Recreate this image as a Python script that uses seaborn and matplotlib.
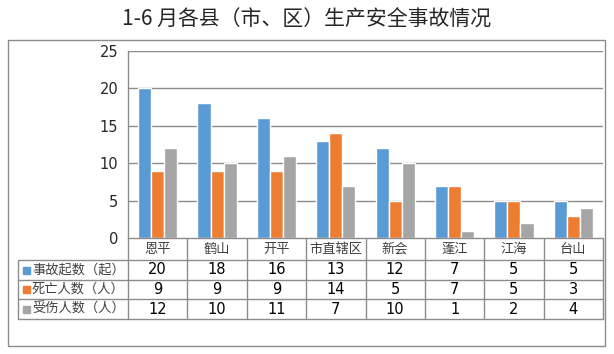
import matplotlib
matplotlib.use("Agg")
import matplotlib.pyplot as plt
import seaborn as sns
import pandas as pd
from matplotlib.transforms import blended_transform_factory
from matplotlib.patches import Rectangle

categories = ["恩平", "鹤山", "开平", "市直辖区", "新会", "蓬江", "江海", "台山"]
series_names = ["事故起数（起）", "死亡人数（人）", "受伤人数（人）"]
accidents = [20, 18, 16, 13, 12, 7, 5, 5]
deaths = [9, 9, 9, 14, 5, 7, 5, 3]
injuries = [12, 10, 11, 7, 10, 1, 2, 4]
yticks = [0, 5, 10, 15, 20, 25]
colors = ["#5B9BD5", "#ED7D31", "#A5A5A5"]
title = "1-6 月各县（市、区）生产安全事故情况"

sns.set_theme(style="white")
plt.rcParams['font.family'] = ['Noto Sans CJK SC', 'DejaVu Sans']

df = pd.DataFrame({
    "cat": categories * 3,
    "series": sum([[s] * len(categories) for s in series_names], []),
    "value": accidents + deaths + injuries,
})

W, H = 614, 354
fig = plt.figure(figsize=(W / 100, H / 100), dpi=100)

def fx(px):
    return px / W

def fy(py):
    return 1 - py / H

grid_c = "#8C8C8C"
x0, x1, ytop, ybot = 128, 603, 51, 238
ax = fig.add_axes([fx(x0), fy(ybot), fx(x1) - fx(x0), fy(ytop) - fy(ybot)])
sns.barplot(data=df, x="cat", y="value", hue="series", palette=colors,
            width=0.66, saturation=1, ax=ax, legend=False)
ax.set_xlim(-0.5, len(categories) - 0.5)
ax.set_ylim(0, 25)
ax.set_yticks(yticks)
ax.set_yticklabels([str(v) for v in yticks], fontsize=10.5, family=['DejaVu Sans'])
ax.tick_params(axis='y', length=0, pad=7)
ax.set_xticks([])
ax.set_xlabel("")
ax.set_ylabel("")
for v in yticks[1:]:
    ax.axhline(v, color=grid_c, lw=1, zorder=0)
for s in ["top", "right", "bottom"]:
    ax.spines[s].set_visible(False)
ax.spines["left"].set_color(grid_c)
ax.spines["left"].set_linewidth(1)

# outer frame
fig.patches.append(Rectangle((fx(8), fy(346)), fx(605) - fx(8), fy(40) - fy(346),
                             transform=fig.transFigure, fill=False,
                             edgecolor=grid_c, lw=1))

fig.text(fx(307), fy(20), title, ha="center", va="center", fontsize=15,
         family=['Noto Sans CJK SC', 'DejaVu Sans'])

# data table
tr = blended_transform_factory(ax.transData, fig.transFigure)
line_kw = dict(color=grid_c, lw=1, clip_on=False)
row_y = [238, 260, 280, 299, 319]
xl = -0.5 - (x0 - 18) / ((x1 - x0) / len(categories))
ax.plot([-0.5, len(categories) - 0.5], [fy(238)] * 2, transform=tr, **line_kw)
for ry in row_y[1:]:
    ax.plot([xl, len(categories) - 0.5], [fy(ry)] * 2, transform=tr, **line_kw)
for i in range(len(categories) + 1):
    ax.plot([i - 0.5] * 2, [fy(238), fy(319)], transform=tr, **line_kw)
ax.plot([xl] * 2, [fy(260), fy(319)], transform=tr, **line_kw)

for i, c in enumerate(categories):
    ax.text(i, fy((238 + 260) / 2), c, transform=tr, ha="center", va="center",
            fontsize=9.5, color="#404040")
all_vals = [accidents, deaths, injuries]
for r, (name, vals, col) in enumerate(zip(series_names, all_vals, colors)):
    yc = fy((row_y[r + 1] + row_y[r + 2]) / 2)
    for i, v in enumerate(vals):
        ax.text(i, yc, str(v), transform=tr, ha="center", va="center",
                fontsize=10.5, color="#000000", family=['DejaVu Sans'])
    fig.patches.append(Rectangle((fx(23), yc - 3.5 / H), 7 / W, 7 / H,
                                 transform=fig.transFigure, color=col))
    fig.text(fx(32), yc, name, ha="left", va="center", fontsize=9.5,
             color="#404040")

fig.savefig("out.png", dpi=100)
